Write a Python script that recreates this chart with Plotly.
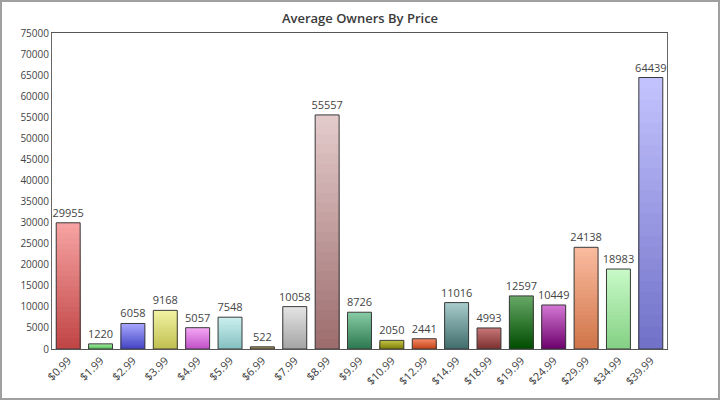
import plotly.graph_objects as go

prices = ["$0.99", "$1.99", "$2.99", "$3.99", "$4.99", "$5.99", "$6.99", "$7.99",
          "$8.99", "$9.99", "$10.99", "$12.99", "$14.99", "$18.99", "$19.99",
          "$24.99", "$29.99", "$34.99", "$39.99"]
owners = [29955, 1220, 6058, 9168, 5057, 7548, 522, 10058, 55557, 8726, 2050,
          2441, 11016, 4993, 12597, 10449, 24138, 18983, 64439]
top_colors = ["#f7a4a4", "#a8f0a8", "#a8a8ff", "#f2f2a4", "#f4a8f4", "#cdf0f0",
              "#c8b880", "#e4e4e4", "#e4cccc", "#88cca4", "#c4c448", "#f48c68",
              "#a8cccc", "#c87878", "#68a868", "#d478d4", "#fabca0", "#c8fac8",
              "#c4c4ff"]
bottom_colors = ["#c04444", "#58c058", "#4444c4", "#c0c050", "#c050c8", "#84c0c0",
                 "#907848", "#a4a4a4", "#9c6c6c", "#2c7850", "#808008", "#c44418",
                 "#406c6c", "#7c3030", "#004c00", "#6c006c", "#d07448", "#84d084",
                 "#7070c8"]


def hex2rgb(h):
    h = h.lstrip("#")
    return tuple(int(h[i:i + 2], 16) for i in (0, 2, 4))


def mix(c1, c2, t):
    a, b = hex2rgb(c1), hex2rgb(c2)
    return "rgb(%d,%d,%d)" % tuple(round(a[i] + (b[i] - a[i]) * t) for i in range(3))


N = 24
fig = go.Figure()
for k in range(N):
    frac_top = (N - k) / N
    frac_mid = (N - k - 0.5) / N
    fig.add_trace(go.Bar(
        x=prices,
        y=[v * frac_top for v in owners],
        marker=dict(color=[mix(b, t, frac_mid) for t, b in zip(top_colors, bottom_colors)],
                    line=dict(width=0)),
        hoverinfo="skip",
        showlegend=False,
    ))

fig.add_trace(go.Bar(
    x=prices,
    y=owners,
    marker=dict(color="rgba(0,0,0,0)", line=dict(color="#3a3a3a", width=1)),
    text=[str(v) for v in owners],
    textposition="outside",
    constraintext="none",
    textfont=dict(family="Open Sans", size=11, color="#444444"),
    cliponaxis=False,
    showlegend=False,
))

fig.update_layout(
    width=720, height=400,
    margin=dict(l=52, r=53, t=33, b=51),
    barmode="overlay",
    bargap=0.26,
    paper_bgcolor="white",
    plot_bgcolor="white",
    font=dict(family="Open Sans", size=10, color="#444444"),
    title=dict(text="Average Owners By Price", x=0.5, xanchor="center",
               y=0.955, yanchor="middle", yref="container",
               font=dict(family="Open Sans", size=13, color="#3a3a3a", weight=600)),
)
fig.update_yaxes(range=[0, 75000], dtick=5000, tick0=0, tickformat="d",
                 showgrid=False, showline=True, linecolor="#666666", linewidth=1,
                 mirror=True, ticks="", zeroline=False,
                 tickfont=dict(family="Open Sans", size=10, color="#444444"))
fig.update_xaxes(showgrid=False, showline=True, linecolor="#555555", linewidth=1,
                 mirror=True, ticks="", tickangle=-45,
                 tickfont=dict(family="Open Sans", size=11, color="#3a3a3a"))

# outer frame around the whole picture
fig.add_shape(type="rect", xref="paper", yref="paper",
              x0=-51 / 615, x1=1 + 52 / 615, y0=-50 / 316, y1=1 + 32 / 316,
              line=dict(color="#a0a0a0", width=2), fillcolor="rgba(0,0,0,0)",
              layer="below")

fig.write_html("out.html", config={"displayModeBar": False},
               post_script="document.body.style.margin='0px';document.body.style.overflow='hidden';")
